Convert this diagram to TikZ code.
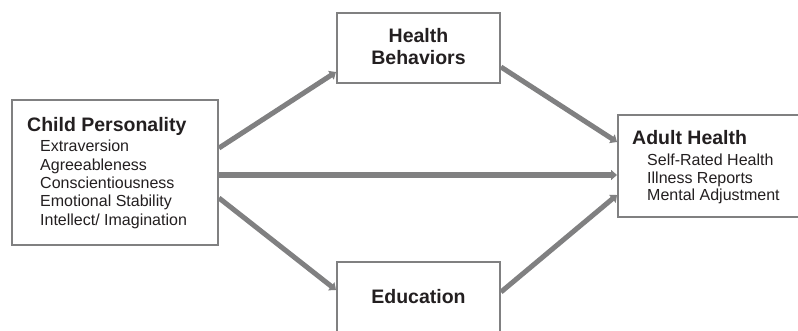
\documentclass[tikz,border=0pt]{standalone}
\usepackage{fontspec}
\setmainfont{Liberation Sans}
\usetikzlibrary{arrows.meta}
\definecolor{linegray}{RGB}{128,128,129}
\definecolor{txt}{RGB}{35,31,32}
\begin{document}
\begin{tikzpicture}[x=1pt,y=-1pt,
  box/.style={draw=linegray, line width=2pt, fill=white, inner sep=0pt},
  head/.style={inner sep=0pt, text=txt, font=\fontsize{19.5}{22}\selectfont\bfseries},
  item/.style={inner sep=0pt, anchor=base west, text=txt, font=\fontsize{16}{18}\selectfont},
  conn/.style={draw=linegray, line width=5pt, -{Triangle[length=6pt,width=10pt]}},
  connthick/.style={conn, line width=6pt}]
\fill[white] (0,0) rectangle (798,331);
\useasboundingbox (0,0) rectangle (798,331);

% boxes
\node[box, minimum width=206pt, minimum height=145pt] (child) at (115,172.5) {};
\node[box, minimum width=163pt, minimum height=70pt] (hb) at (418.5,48) {};
\node[box, minimum width=163pt, minimum height=73pt] (edu) at (418.5,298.5) {};
\node[box, minimum width=186pt, minimum height=102pt] (adult) at (711,166) {};

% texts: child personality
\node[head, anchor=base west] (childT) at (27,132) {Child Personality};
\foreach \t [count=\i from 0] in {Extraversion,Agreeableness,Conscientiousness,Emotional Stability,Intellect/ Imagination}
  \node[item] (ci\i) at (40,152+18.3*\i) {\t};

% health behaviors
\node[head, anchor=base] (hbA) at (418.5,43) {Health};
\node[head, anchor=base] (hbB) at (418.5,65) {Behaviors};

% education
\node[head, anchor=base] (eduT) at (418.5,303) {Education};

% adult health
\node[head, anchor=base west] (adultT) at (632,145) {Adult Health};
\foreach \t [count=\i from 0] in {Self-Rated Health,Illness Reports,Mental Adjustment}
  \node[item] (ai\i) at (647,166+17.5*\i) {\t};

% connectors
\draw[conn] ([yshift=24.5pt]child.east) -- ([yshift=-24pt]hb.west);
\draw[conn] ([yshift=-19pt]hb.east) -- ([yshift=24pt]adult.west);
\draw[connthick] ([yshift=-2.5pt]child.east) -- ([yshift=-9pt]adult.west);
\draw[conn] ([yshift=-25.5pt]child.east) -- ([yshift=8.5pt]edu.west);
\draw[conn] ([yshift=6.5pt]edu.east) -- ([yshift=-29pt]adult.west);
\end{tikzpicture}
\end{document}
